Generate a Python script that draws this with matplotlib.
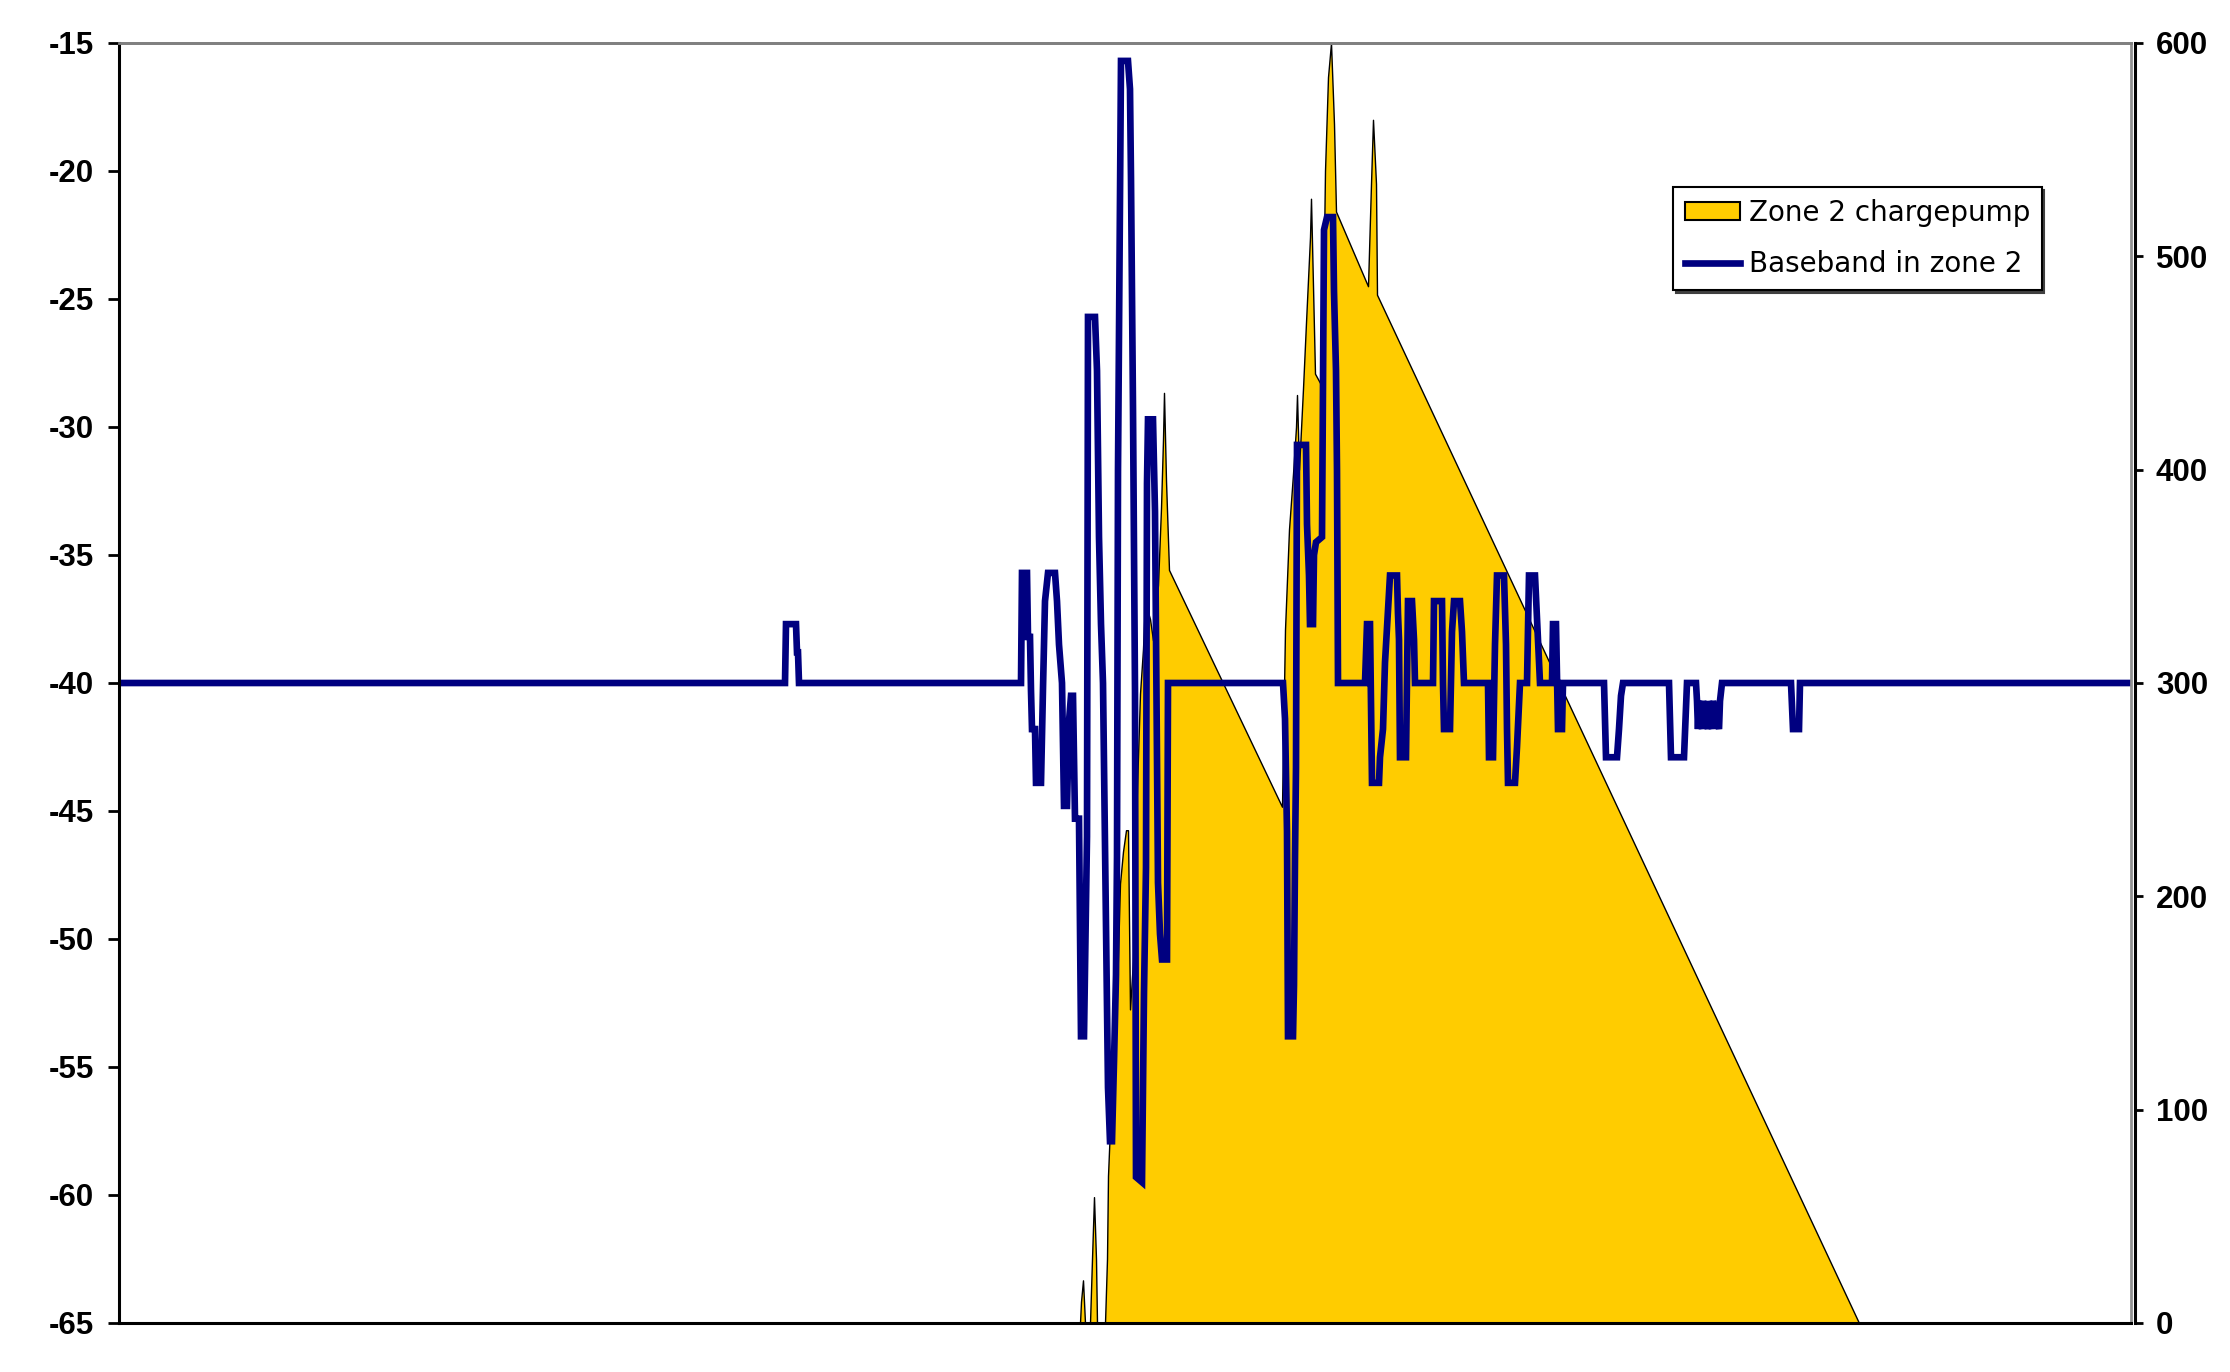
import matplotlib
matplotlib.use("Agg")
import matplotlib.pyplot as plt
from matplotlib.patches import Patch
from matplotlib.lines import Line2D

# ---- data (sample index, value) ----
bb_t = [0, 666, 667, 677, 678, 679, 680, 902, 903, 908, 909, 911, 912, 913, 916, 917, 922, 924,
        926, 929, 936, 938, 940, 943, 945, 948, 950, 952, 954, 956, 960, 962, 965, 968, 969, 976,
        978, 980, 982, 984, 986, 989, 991, 993, 995, 997, 998, 999, 1001, 1002, 1009, 1011, 1012,
        1014, 1016, 1017, 1023, 1025, 1027, 1028, 1029, 1034, 1036, 1038, 1039, 1041, 1043, 1048,
        1049, 1164, 1166, 1168, 1169, 1174, 1175, 1176, 1177, 1178, 1187, 1188, 1190, 1191, 1194,
        1195, 1197, 1203, 1204, 1205, 1208, 1214, 1215, 1217, 1218, 1219, 1246, 1247, 1248, 1251,
        1252, 1253, 1260, 1261, 1264, 1266, 1271, 1278, 1279, 1280, 1281, 1287, 1289, 1293, 1295,
        1296, 1314, 1315, 1323, 1324, 1325, 1331, 1333, 1335, 1341, 1343, 1345, 1369, 1370, 1374,
        1376, 1378, 1385, 1387, 1388, 1389, 1396, 1398, 1401, 1408, 1410, 1416, 1418, 1421, 1433,
        1434, 1437, 1439, 1443, 1444, 1485, 1487, 1498, 1500, 1502, 1504, 1550, 1552, 1565, 1567,
        1568, 1577, 1578, 1579, 1580, 1583, 1584, 1589, 1590, 1593, 1594, 1600, 1601, 1603, 1672,
        1674, 1680, 1681, 2012]
bb_v = [-40, -40, -37.7, -37.7, -38.8, -38.8, -40, -40, -35.7, -35.7, -38.2, -38.2, -40.3, -41.8,
        -41.8, -43.9, -43.9, -40.2, -36.8, -35.7, -35.7, -36.8, -38.5, -40, -44.8, -44.8, -41.5,
        -40.5, -40.5, -45.3, -45.3, -53.8, -53.8, -46, -25.7, -25.7, -27.8, -34.3, -37.7, -40,
        -46.4, -55.8, -57.9, -57.9, -54.8, -51.4, -46.8, -31.7, -21.3, -15.7, -15.7, -16.8, -20.3,
        -29.3, -40.3, -59.3, -59.5, -52.1, -47.2, -32.2, -29.7, -29.7, -33.3, -42.7, -47.8, -49.8,
        -50.8, -50.8, -40, -40, -41.4, -45.8, -53.8, -53.8, -51.8, -46.8, -43.3, -30.7, -30.7,
        -33.8, -35.8, -37.7, -37.7, -35, -34.5, -34.3, -28.3, -22.3, -21.8, -21.8, -24.7, -27.8,
        -31.7, -40, -40, -38.8, -37.7, -37.7, -40.8, -43.9, -43.9, -42.9, -41.8, -39.2, -35.8,
        -35.8, -37.3, -38.3, -42.9, -42.9, -36.8, -36.8, -38.3, -40, -40, -36.8, -36.8, -40,
        -41.8, -41.8, -38, -36.8, -36.8, -38, -40, -40, -42.9, -42.9, -38.5, -35.8, -35.8, -38.5,
        -41.8, -43.9, -43.9, -42.5, -40, -40, -35.8, -35.8, -37.5, -40, -40, -37.7, -37.7, -41.8,
        -41.8, -40, -40, -42.9, -42.9, -41.8, -40.5, -40, -40, -42.9, -42.9, -41, -40, -40, -40.7,
        -41.8, -40.7, -41.8, -40.7, -41.8, -40.7, -41.8, -40.7, -41.8, -40.7, -40, -40, -41.8,
        -41.8, -40, -40]

cp_t = [0, 961, 962, 964, 966, 971, 973, 975, 977, 978, 986, 988, 989, 991, 996, 1001, 1004, 1007,
        1009, 1011, 1014, 1018, 1021, 1024, 1026, 1031, 1034, 1039, 1042, 1044, 1045, 1047, 1050,
        1163, 1166, 1170, 1174, 1177, 1178, 1180, 1184, 1187, 1191, 1192, 1194, 1196, 1203, 1206,
        1209, 1212, 1215, 1217, 1249, 1252, 1254, 1257, 1258, 1740, 2012]
cp_v = [0, 0, 10, 20, 0, 0, 30, 59, 30, 0, 0, 30, 69, 92, 122, 206, 221, 231, 231, 147, 170, 251,
        295, 316, 338, 330, 320, 346, 382, 414, 436, 395, 353, 242, 325, 372, 398, 420, 435, 400,
        438, 469, 509, 527, 486, 445, 439, 540, 584, 600, 562, 521, 486, 534, 564, 534, 482, 0, 0]

left_ticks = [-65, -60, -55, -50, -45, -40, -35, -30, -25, -20, -15]
right_ticks = [0, 100, 200, 300, 400, 500, 600]
labels = ["Zone 2 chargepump", "Baseband in zone 2"]

plt.rcParams["font.family"] = ["Liberation Sans", "DejaVu Sans"]
plt.rcParams["font.weight"] = "bold"
plt.rcParams["font.size"] = 22.5

# ---- figure ----
W, H = 2230, 1372
fig = plt.figure(figsize=(W / 100, H / 100), dpi=100)
ax = fig.add_axes([119 / W, 1 - 1323 / H, 2012 / W, 1280 / H])
ax2 = ax.twinx()
ax.set_zorder(ax2.get_zorder() + 1)
ax.patch.set_visible(False)

ax2.fill_between(cp_t, cp_v, 0, facecolor="#FFCC00", edgecolor="black", linewidth=1.0)
ax.plot(bb_t, bb_v, color="#000080", linewidth=4.8, solid_joinstyle="miter")

ax.set_xlim(0, 2012)
ax.set_ylim(-65, -15)
ax2.set_ylim(0, 600)
ax.set_xticks([])
ax.set_yticks(left_ticks)
ax.set_yticklabels([str(v) for v in left_ticks])
ax2.set_yticks(right_ticks)
ax2.set_yticklabels([str(v) for v in right_ticks])

ax.tick_params(axis="y", direction="out", length=8, width=2, pad=10, colors="black",
               labelsize=22.5)
ax2.tick_params(axis="y", direction="out", length=6, width=2, pad=9, colors="black",
                labelsize=22.5)

for a in (ax, ax2):
    a.spines["top"].set_color("#808080")
    a.spines["top"].set_linewidth(2)
ax.spines["left"].set_color("black")
ax.spines["left"].set_linewidth(2.2)
ax.spines["bottom"].set_color("black")
ax.spines["bottom"].set_linewidth(2.2)
ax.spines["right"].set_color("#909090")
ax.spines["right"].set_linewidth(2)
ax2.spines["left"].set_visible(False)
ax2.spines["bottom"].set_visible(False)
ax2.spines["right"].set_color("black")
ax2.spines["right"].set_linewidth(2.2)
ax2.spines["right"].set_position(("outward", 3))

handles = [Patch(facecolor="#FFCC00", edgecolor="black", linewidth=1.5),
           Line2D([0], [0], color="#000080", linewidth=4.8)]
leg = ax.legend(handles, labels, loc="upper left",
                bbox_to_anchor=(1673 / W, 1 - 187 / H), bbox_transform=fig.transFigure,
                prop={"family": "DejaVu Sans", "size": 20, "weight": "normal"},
                frameon=True, fancybox=False,
                edgecolor="black", framealpha=1, handlelength=2.0, handleheight=0.6,
                handletextpad=0.3, labelspacing=0.85, borderpad=0.42, borderaxespad=0,
                shadow={"color": "#404040", "alpha": 1})
leg.get_frame().set_linewidth(1.5)

fig.savefig("out.png", dpi=100)
